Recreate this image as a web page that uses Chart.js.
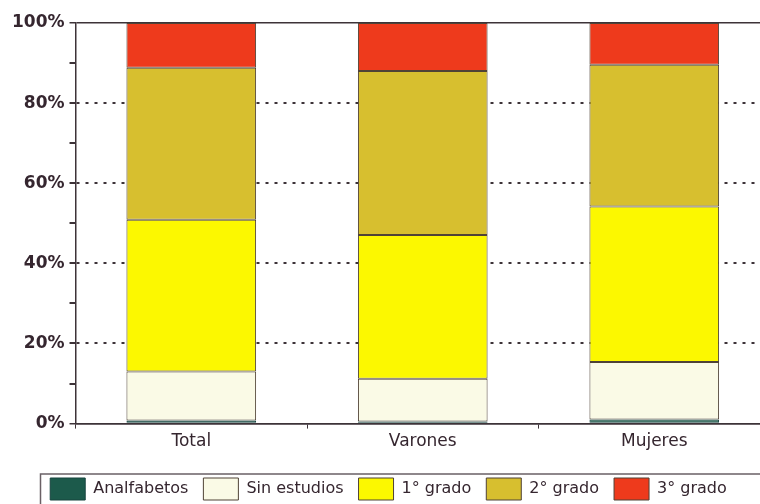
<!DOCTYPE html>
<html>
<head>
<meta charset="utf-8">
<script src="https://cdn.jsdelivr.net/npm/chart.js@4/dist/chart.umd.min.js"></script>
<style>
	html, body { margin: 0; padding: 0; background: #fff; overflow: hidden; }
	#wrap { position: relative; width: 770px; height: 510px; }
</style>
</head>
<body>
<div id="wrap"><canvas id="chart"></canvas></div>
<script>
const categories = ['Total', 'Varones', 'Mujeres'];
const analfabetos = [0.8, 0.5, 1.0];
const sinEstudios = [12.2, 10.7, 14.4];
const primerGrado = [37.9, 35.9, 38.8];
const segundoGrado = [37.9, 40.9, 35.4];
const tercerGrado = [11.2, 12.0, 10.4];
const yTicks = [0, 20, 40, 60, 80, 100];

const textColor = '#35262f';
const lineColor = '#3d3338';
const fontFamily = 'DejaVu Sans, Verdana, sans-serif';

// frame round the legend, as in the scanned figure
const legendFrame = {
	id: 'legendFrame',
	afterDraw(chart) {
		const boxes = chart.legend.legendHitBoxes;
		if (!boxes || !boxes.length) return;
		const ctx = chart.ctx;
		const top = boxes[0].top - 4;
		ctx.save();
		ctx.strokeStyle = '#6a6065';
		ctx.lineWidth = 1.5;
		ctx.strokeRect(40.5, top, chart.width + 20, 60);
		ctx.restore();
	},
};

const seriesStyle = (label, data, color, edge = '#4f4236') => ({
	label,
	data,
	backgroundColor: color,
	borderColor: edge,
	borderWidth: 1,
	borderSkipped: false,
	categoryPercentage: 1,
	barPercentage: 0.56,
});

new Chart(document.getElementById('chart'), {
	type: 'bar',
	data: {
		labels: categories,
		datasets: [
			seriesStyle('Analfabetos', analfabetos, '#1c5a4b', '#17443f'),
			seriesStyle('Sin estudios', sinEstudios, '#fafae6'),
			seriesStyle('1° grado', primerGrado, '#fcf800'),
			seriesStyle('2° grado', segundoGrado, '#d7bf2f'),
			seriesStyle('3° grado', tercerGrado, '#ee3a1c'),
		],
	},
	options: {
		responsive: true,
		maintainAspectRatio: false,
		animation: false,
		layout: { padding: { top: 23, left: 7, right: 0, bottom: 0 } },
		plugins: {
			legend: {
				position: 'bottom',
				labels: {
					boxWidth: 35,
					boxHeight: 22,
					padding: 15,
					color: textColor,
					font: { family: fontFamily, size: 16 },
				},
			},
			title: { display: false },
			tooltip: { enabled: false },
		},
		scales: {
			x: {
				stacked: true,
				afterFit: (scale) => { scale.height += 8; },
				grid: {
					offset: true,
					drawOnChartArea: false,
					tickLength: 5,
					tickColor: lineColor,
				},
				border: { color: lineColor, width: 1.5 },
				ticks: {
					color: textColor,
					padding: 3,
					font: { family: fontFamily, size: 17 },
				},
			},
			y: {
				stacked: true,
				min: 0,
				max: 100,
				grid: {
					color: (ctx) => (yTicks.includes(ctx.tick.value) ? lineColor : 'rgba(0,0,0,0)'),
					lineWidth: (ctx) => (ctx.tick.value === 0 || ctx.tick.value === 100 ? 1.5 : 2),
					tickLength: 6,
					tickColor: lineColor,
				},
				border: {
					color: lineColor,
					width: 1.5,
					dash: (ctx) => (ctx.tick && ctx.tick.value > 0 && ctx.tick.value < 100 ? [3, 6] : []),
				},
				ticks: {
					stepSize: 10,
					autoSkip: false,
					color: textColor,
					padding: 5,
					font: { family: fontFamily, size: 17, weight: 'bold' },
					callback: (value) => (yTicks.includes(value) ? value + '%' : ''),
				},
			},
		},
	},
	plugins: [legendFrame],
});
</script>
</body>
</html>
